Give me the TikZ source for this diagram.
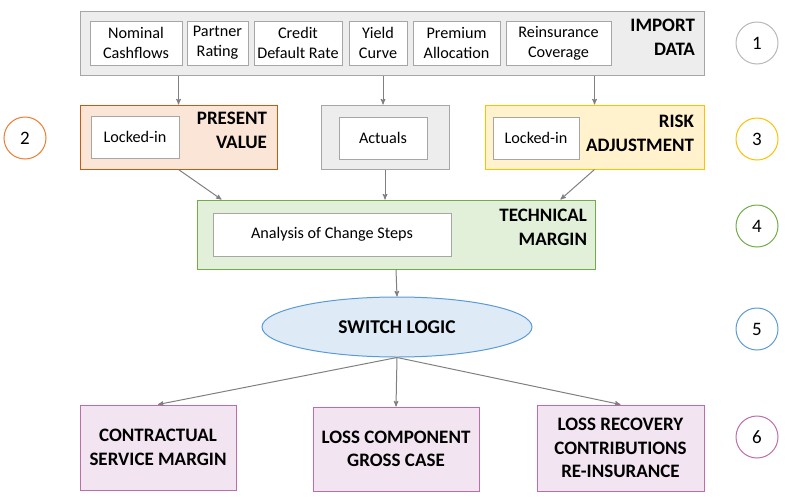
\documentclass[tikz,border=0pt]{standalone}
\usepackage{fontspec}
\setmainfont{Carlito}
\usepackage{tikz}
\usetikzlibrary{arrows,shapes.geometric}

\definecolor{linegray}{HTML}{808080}
\definecolor{boxgray}{HTML}{A6A6A6}
\definecolor{fillgray}{HTML}{EDEDED}
\definecolor{pvfill}{HTML}{FBE5D6}
\definecolor{pvline}{HTML}{C55A11}
\definecolor{rafill}{HTML}{FFF2CC}
\definecolor{raline}{HTML}{FFC000}
\definecolor{tmfill}{HTML}{E2F0D9}
\definecolor{tmline}{HTML}{70AD47}
\definecolor{swfill}{HTML}{DEEBF7}
\definecolor{swline}{HTML}{5B9BD5}
\definecolor{resfill}{HTML}{F2E4F0}
\definecolor{resline}{HTML}{C06CA8}
\definecolor{orangeline}{HTML}{ED7D31}

\begin{document}
\begin{tikzpicture}[x=1pt,y=-1pt,>=stealth',line width=1pt,
  outer node/.style={draw,rectangle,inner sep=0pt},
  data node/.style={draw=boxgray,fill=white,rectangle,inner sep=1pt,align=center,
    font=\fontsize{16.2}{20}\selectfont},
  title node/.style={anchor=north east,align=right,inner sep=0pt,
    font=\fontsize{19}{24}\selectfont\bfseries},
  result node/.style={draw=resline,fill=resfill,rectangle,align=center,
    font=\fontsize{19}{23.5}\selectfont\bfseries},
  num node/.style={draw,circle,minimum size=42pt,inner sep=0pt,
    font=\fontsize{19}{22}\selectfont},
  size/.style 2 args={minimum width=#1,minimum height=#2}]

  \useasboundingbox (0,0) rectangle (790,501);

  % import data
  \node[outer node,draw=boxgray,fill=fillgray,size={624pt}{64pt}] (import) at (392,43) {};
  \node[data node,size={92pt}{44pt}] (nominal) at (136,43) {Nominal\\Cashflows};
  \node[data node,size={61pt}{44pt}] (partner) at (217.5,43) {Partner\\Rating};
  \node[data node,size={88pt}{44pt}] (credit) at (298,43) {Credit\\Default Rate};
  \node[data node,size={58pt}{44pt}] (yield) at (378,43) {Yield\\Curve};
  \node[data node,size={87pt}{44pt}] (premium) at (456.5,43) {Premium\\Allocation};
  \node[data node,size={105pt}{44pt}] (reins) at (558.5,43) {Reinsurance\\Coverage};
  \node[title node] (importlbl) at ([xshift=-9pt,yshift=-8pt]import.north east) {IMPORT\\DATA};

  % second row
  \node[outer node,draw=pvline,fill=pvfill,size={197pt}{64pt}] (pv) at (178.5,137) {};
  \node[data node,size={88pt}{42pt}] (pvin) at (135,137) {Locked-in};
  \node[title node] (pvlbl) at ([xshift=-10pt,yshift=-7pt]pv.north east) {PRESENT\\VALUE};

  \node[outer node,draw=boxgray,fill=fillgray,size={128pt}{64pt}] (act) at (385,137) {};
  \node[data node,size={88pt}{42pt}] (actin) at (383,138) {Actuals};

  \node[outer node,draw=raline,fill=rafill,size={219pt}{64pt}] (ra) at (594.5,137) {};
  \node[data node,size={86pt}{42pt}] (rain) at (536,138) {Locked-in};
  \node[title node] (ralbl) at ([xshift=-10pt,yshift=-10pt]ra.north east) {RISK\\ADJUSTMENT};

  % technical margin
  \node[outer node,draw=tmline,fill=tmfill,size={398pt}{69pt}] (tm) at (396,234.5) {};
  \node[data node,size={238pt}{43pt}] (tmin) at (332,234.5) {Analysis of Change Steps};
  \node[title node] (tmlbl) at ([xshift=-8pt,yshift=-9pt]tm.north east) {TECHNICAL\\MARGIN};

  % switch logic
  \node[draw=swline,fill=swfill,ellipse,size={270pt}{60pt},inner sep=0pt,
    font=\fontsize{19.5}{22}\selectfont\bfseries] (sw) at (397,327) {SWITCH LOGIC};

  % results
  \node[result node,size={156pt}{85pt}] (csm) at (158,447.5) {CONTRACTUAL\\SERVICE MARGIN};
  \node[result node,size={166pt}{84pt}] (lcg) at (396,449) {LOSS COMPONENT\\GROSS CASE};
  \node[result node,size={167pt}{86pt}] (lrc) at (620.5,448) {LOSS RECOVERY\\CONTRIBUTIONS\\RE-INSURANCE};

  % step numbers
  \node[num node,draw=boxgray!80] (n1) at (757,43) {1};
  \node[num node,draw=orangeline] (n2) at (25,138) {2};
  \node[num node,draw=raline] (n3) at (757,139) {3};
  \node[num node,draw=tmline] (n4) at (757,226) {4};
  \node[num node,draw=swline] (n5) at (757,329) {5};
  \node[num node,draw=resline] (n6) at (757,437) {6};

  \path[->,every edge/.style={draw=linegray}]
    (import.south -| pv) edge (pv.north)
    (import.south -| actin) edge (act.north -| actin)
    (import.south -| ra) edge (ra.north)
    (pv.south) edge ([xshift=25pt]tm.north west)
    (act.south) edge (act.south |- tm.north)
    (ra.south) edge ([xshift=-35pt]tm.north east)
    (tm.south) edge (sw.north)
    (sw.south) edge (csm.north)
    (sw.south) edge (lcg.north)
    (sw.south) edge (lrc.north);
\end{tikzpicture}
\end{document}
